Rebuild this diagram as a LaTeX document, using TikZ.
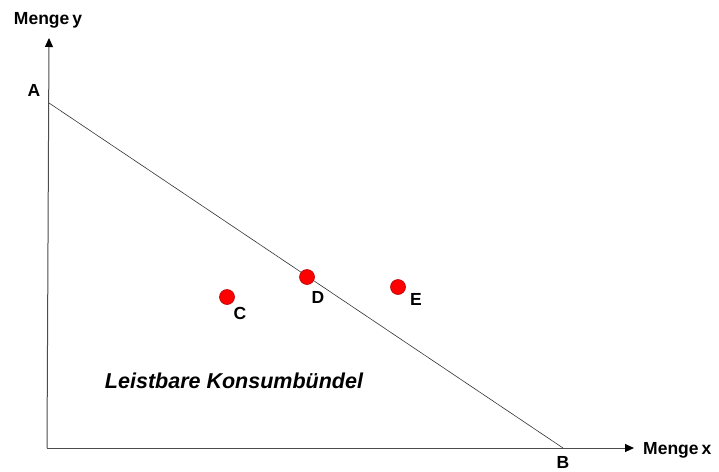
\documentclass[tikz,border=0pt]{standalone}
\usepackage{fontspec}
\setmainfont{Liberation Sans}
\usetikzlibrary{arrows.meta}
\begin{document}
\begin{tikzpicture}[x=1pt,y=-1pt,
  lbl/.style={font=\fontsize{17.5}{20}\selectfont\bfseries, inner sep=0pt},
  axis/.style={draw=black!70, line width=1pt, -{Triangle[length=9pt,width=8pt,color=black]}},
  dot/.style={circle, fill=red, draw=red!70!black, line width=0.6pt, minimum size=15pt, inner sep=0pt}]
\useasboundingbox (0,0) rectangle (719,471);
\coordinate (O) at (47,448);
\coordinate (Ytop) at (49,38);
\coordinate (Xend) at (634,448);
\draw[axis] (O) -- (Ytop);
\draw[axis] (O) -- (Xend);
\coordinate (A) at (49,103);
\coordinate (B) at (563,448);
\draw[black!80, line width=0.6pt] (A) -- (B);
\node[dot] (C) at (227,297) {};
\node[dot] (D) at (307,277) {};
\node[dot] (E) at (398,287) {};
\node[lbl] (lA) at (34,90) {A};
\node[lbl] (lB) at (563,462) {B};
\node[lbl] (lC) at (240,313) {C};
\node[lbl] (lD) at (318,297) {D};
\node[lbl] (lE) at (416,299) {E};
\node[lbl] (ly) at (48,20) {Menge\,y};
\node[lbl, anchor=west] (lx) at (643,450) {Menge\,x};
\node[font=\fontsize{21.5}{24}\selectfont\bfseries\itshape, inner sep=0pt] (k) at (234,381) {Leistbare Konsumbündel};
\end{tikzpicture}
\end{document}
